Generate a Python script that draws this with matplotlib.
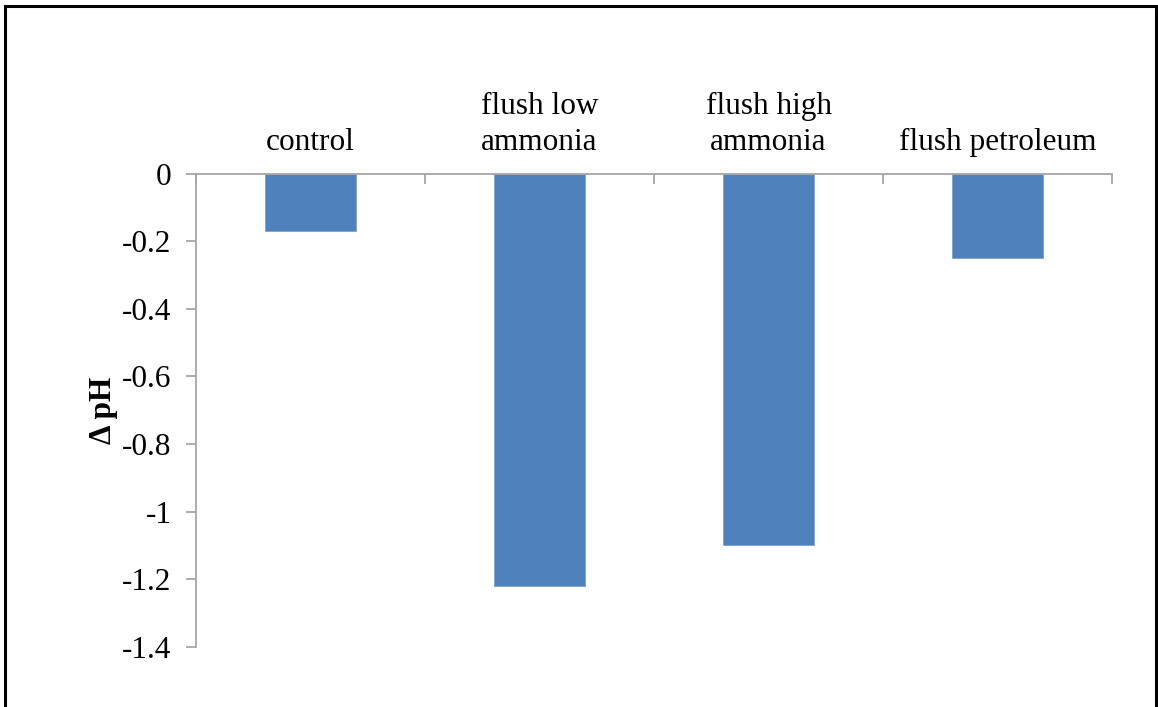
import matplotlib
matplotlib.use("Agg")
import matplotlib.pyplot as plt
from matplotlib.patches import Rectangle

categories = ["control", "flush low\nammonia", "flush high\nammonia", "flush petroleum"]
delta_ph = [-0.17, -1.22, -1.10, -0.25]
y_ticks = [0, -0.2, -0.4, -0.6, -0.8, -1.0, -1.2, -1.4]
y_tick_labels = ["0", "-0.2", "-0.4", "-0.6", "-0.8", "-1", "-1.2", "-1.4"]

plt.rcParams["font.family"] = ["Liberation Serif", "DejaVu Serif"]

W, H, DPI = 1158, 707, 100
fig = plt.figure(figsize=(W / DPI, H / DPI), dpi=DPI)
fig.patch.set_facecolor("white")

ax = fig.add_axes([196 / W, 1 - 646.7 / H, (1112 - 196) / W, (646.7 - 173.7) / H])

x = list(range(len(categories)))
ax.bar(x, delta_ph, width=0.4, color="#4F81BD", edgecolor="#7f9fcc", linewidth=0.6, zorder=2)

ax.set_xlim(-0.5, len(categories) - 0.5)
ax.set_ylim(-1.4, 0)

axis_grey = "#a6a6a6"
for side in ("right", "bottom"):
    ax.spines[side].set_visible(False)
for side in ("left", "top"):
    ax.spines[side].set_color(axis_grey)
    ax.spines[side].set_linewidth(1.3)

# category labels sit above the zero line; boundary ticks hang below it
ax.xaxis.tick_top()
ax.set_xticks(x)
ax.set_xticklabels(categories, fontsize=22.5, linespacing=1.3)
ax.tick_params(axis="x", which="major", length=0, pad=12)
ax.set_xticks([i - 0.5 for i in range(len(categories) + 1)], minor=True)
ax.tick_params(axis="x", which="minor", direction="in", length=7.5, width=1.3, color=axis_grey, top=True, bottom=False)

ax.set_yticks(y_ticks)
ax.set_yticklabels(y_tick_labels, fontsize=22.5)
ax.tick_params(axis="y", direction="out", length=7.5, width=1.3, color=axis_grey, pad=10)

ax.set_ylabel("Δ pH", fontsize=22.5, fontweight="bold", labelpad=3)

# outer chart frame
fig.patches.append(Rectangle((5 / W, -0.05), (1156 - 5) / W, 1.05 - 5.5 / H,
                             transform=fig.transFigure, fill=False,
                             edgecolor="black", linewidth=2.2))

fig.savefig("out.png", dpi=DPI, facecolor="white")
